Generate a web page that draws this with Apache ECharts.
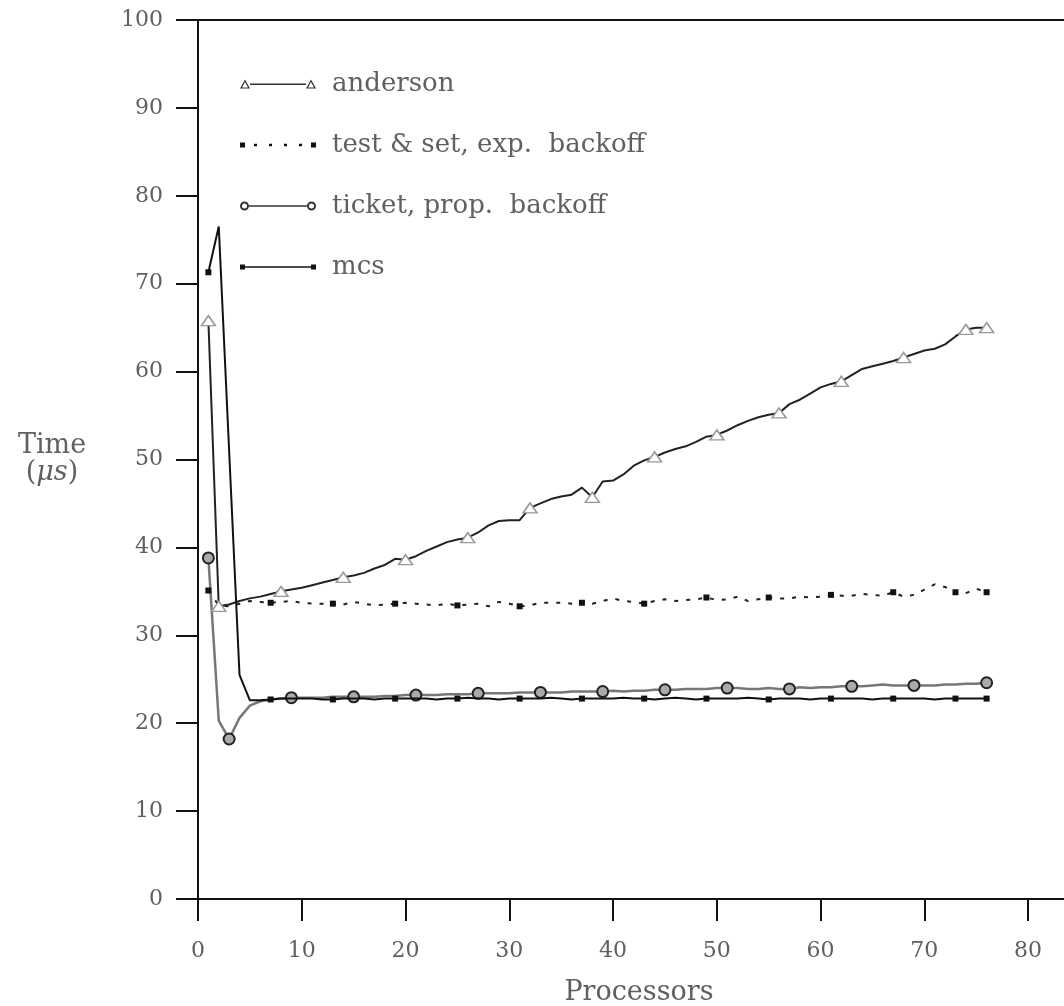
<!DOCTYPE html>
<html>
<head>
<meta charset="utf-8">
<script src="https://cdn.jsdelivr.net/npm/echarts@6/dist/echarts.min.js"></script>
<style>
  html, body { margin: 0; padding: 0; background: #fff; }
  #chart { width: 1064px; height: 1006px; }
</style>
</head>
<body>
<div id="chart"></div>
<script>
// processor counts 1..76
const processors = Array.from({ length: 76 }, (_, i) => i + 1);

const anderson = [
  65.8, 33.3, 33.5, 33.9, 34.2, 34.4, 34.7, 35.0, 35.2, 35.4,
  35.7, 36.0, 36.3, 36.6, 36.8, 37.1, 37.6, 38.0, 38.7, 38.6,
  39.0, 39.6, 40.1, 40.6, 40.9, 41.1, 41.7, 42.5, 43.0, 43.1,
  43.1, 44.5, 45.0, 45.5, 45.8, 46.0, 46.8, 45.7, 47.5, 47.6,
  48.3, 49.3, 49.9, 50.3, 50.8, 51.2, 51.5, 52.0, 52.6, 52.8,
  53.3, 53.9, 54.4, 54.8, 55.1, 55.3, 56.3, 56.8, 57.5, 58.2,
  58.6, 58.9, 59.6, 60.3, 60.6, 60.9, 61.2, 61.6, 62.0, 62.4,
  62.6, 63.1, 64.0, 64.8, 65.0, 65.0
];
const testSet = [
  35.1, 33.4, 33.3, 33.6, 33.9, 33.8, 33.7, 33.8, 33.9, 33.7,
  33.6, 33.6, 33.6, 33.5, 33.8, 33.6, 33.4, 33.5, 33.6, 33.7,
  33.6, 33.5, 33.4, 33.6, 33.4, 33.5, 33.6, 33.3, 33.8, 33.6,
  33.3, 33.4, 33.7, 33.7, 33.7, 33.6, 33.7, 33.6, 33.9, 34.2,
  33.9, 33.8, 33.6, 33.9, 34.1, 33.9, 34.0, 34.1, 34.3, 34.0,
  34.1, 34.4, 33.9, 34.1, 34.3, 34.2, 34.2, 34.4, 34.3, 34.4,
  34.6, 34.5, 34.5, 34.7, 34.6, 34.5, 34.9, 34.4, 34.6, 35.2,
  35.8, 35.5, 34.9, 34.8, 35.3, 34.9
];
const ticket = [
  38.8, 20.3, 18.2, 20.6, 22.0, 22.5, 22.7, 22.8, 22.9, 22.9,
  22.9, 22.9, 23.0, 23.0, 23.0, 23.0, 23.0, 23.1, 23.1, 23.2,
  23.2, 23.2, 23.2, 23.3, 23.3, 23.3, 23.4, 23.4, 23.4, 23.4,
  23.5, 23.5, 23.5, 23.5, 23.5, 23.6, 23.6, 23.6, 23.6, 23.7,
  23.6, 23.7, 23.7, 23.8, 23.8, 23.8, 23.9, 23.9, 23.9, 24.0,
  24.0, 24.0, 23.9, 23.9, 24.0, 23.9, 23.9, 24.1, 24.0, 24.1,
  24.1, 24.2, 24.2, 24.2, 24.3, 24.4, 24.3, 24.3, 24.3, 24.3,
  24.3, 24.4, 24.4, 24.5, 24.5, 24.6
];
const mcs = [
  71.3, 76.5, 51.0, 25.5, 22.6, 22.6, 22.7, 22.8, 22.8, 22.8,
  22.8, 22.7, 22.7, 22.8, 22.8, 22.8, 22.7, 22.8, 22.8, 22.8,
  22.8, 22.8, 22.7, 22.8, 22.8, 22.9, 22.8, 22.8, 22.7, 22.8,
  22.8, 22.8, 22.8, 22.9, 22.8, 22.7, 22.8, 22.8, 22.8, 22.8,
  22.9, 22.8, 22.8, 22.7, 22.8, 22.9, 22.8, 22.7, 22.8, 22.8,
  22.8, 22.8, 22.9, 22.8, 22.7, 22.8, 22.8, 22.8, 22.7, 22.8,
  22.8, 22.8, 22.8, 22.8, 22.7, 22.8, 22.8, 22.8, 22.8, 22.8,
  22.7, 22.8, 22.8, 22.8, 22.8, 22.8
];

// which processor counts carry a marker on each curve
const andersonMarks = [1, 2, 8, 14, 20, 26, 32, 38, 44, 50, 56, 62, 68, 74, 76];
const testSetMarks = [1, 7, 13, 19, 25, 31, 37, 43, 49, 55, 61, 67, 73, 76];
const ticketMarks = [1, 3, 9, 15, 21, 27, 33, 39, 45, 51, 57, 63, 69, 76];
const mcsMarks = [1, 7, 13, 19, 25, 31, 37, 43, 49, 55, 61, 67, 73, 76];

const seriesNames = ['anderson', 'test & set, exp.  backoff', 'ticket, prop.  backoff', 'mcs'];

const pairs = ys => processors.map((p, i) => [p, ys[i]]);
const marker = (marks, type) => (val, params) =>
  marks.includes(processors[params.dataIndex]) ? type : 'none';

// legend icons: line with a marker at each end
const iconAnderson = 'path://M0,12 L5,3 L10,12 Z M2,11 L8,11 L5,5.5 Z M10,7 H66 V8.6 H10 Z M66,12 L71,3 L76,12 Z M68,11 L74,11 L71,5.5 Z';
const iconTestSet = 'path://M0,5 H5 V10 H0 Z M14,6.3 H17 V8.8 H14 Z M29,6.3 H32 V8.8 H29 Z M44,6.3 H47 V8.8 H44 Z M59,6.3 H62 V8.8 H59 Z M71,5 H76 V10 H71 Z';
const iconTicket = 'path://M0,7 A4.5,4.5 0 1 0 9,7 A4.5,4.5 0 1 0 0,7 Z M2,7 A2.5,2.5 0 1 1 7,7 A2.5,2.5 0 1 1 2,7 Z M9,6.2 H67 V7.8 H9 Z M67,7 A4.5,4.5 0 1 0 76,7 A4.5,4.5 0 1 0 67,7 Z M69,7 A2.5,2.5 0 1 1 74,7 A2.5,2.5 0 1 1 69,7 Z';
const iconMcs = 'path://M0,4.5 H5 V9.5 H0 Z M5,6.2 H71 V7.8 H5 Z M71,4.5 H76 V9.5 H71 Z';

const serif = 'DejaVu Serif';
const labelColor = '#606060';

const chart = echarts.init(document.getElementById('chart'));

const option = {
  backgroundColor: '#fff',
  animation: false,
  grid: { left: 198, top: 20, width: 882, height: 879, outerBoundsMode: 'none', containLabel: false },
  legend: {
    orient: 'vertical',
    left: 240,
    top: 69,
    padding: 0,
    itemWidth: 76,
    itemHeight: 14,
    itemGap: 31,
    textStyle: {
      fontFamily: serif,
      fontSize: 26,
      lineHeight: 30,
      color: labelColor,
      padding: [0, 0, 0, 11]
    },
    data: [
      { name: seriesNames[0], icon: iconAnderson, itemStyle: { color: '#333', borderWidth: 0 } },
      { name: seriesNames[1], icon: iconTestSet, itemStyle: { color: '#111', borderWidth: 0 } },
      { name: seriesNames[2], icon: iconTicket, itemStyle: { color: '#333', borderWidth: 0 } },
      { name: seriesNames[3], icon: iconMcs, itemStyle: { color: '#111', borderWidth: 0 } }
    ]
  },
  xAxis: [
    {
      type: 'value',
      min: 0,
      max: 85,
      interval: 10,
      name: 'Processors',
      nameLocation: 'middle',
      nameGap: 80,
      nameTextStyle: { fontFamily: serif, fontSize: 27, color: labelColor },
      axisLine: { lineStyle: { color: '#111', width: 2 } },
      axisTick: { length: 22, lineStyle: { color: '#111', width: 2 } },
      axisLabel: { showMaxLabel: false, margin: 41, fontFamily: serif, fontSize: 22, color: labelColor },
      splitLine: { show: false }
    },
    {
      type: 'value',
      position: 'top',
      min: 0,
      max: 85,
      axisLine: { lineStyle: { color: '#111', width: 2 } },
      axisTick: { show: false },
      axisLabel: { show: false },
      splitLine: { show: false }
    }
  ],
  yAxis: {
    type: 'value',
    min: 0,
    max: 100,
    interval: 10,
    name: '{a|Time}\n{a|(}{i|μs}{a|)}',
    nameLocation: 'middle',
    nameRotate: 0,
    nameGap: 146,
    nameTextStyle: {
      align: 'center',
      rich: {
        a: { fontFamily: serif, fontSize: 27, color: labelColor, lineHeight: 27 },
        i: { fontFamily: serif, fontSize: 27, fontStyle: 'italic', color: labelColor, lineHeight: 27 }
      }
    },
    axisLine: { lineStyle: { color: '#111', width: 2 } },
    axisTick: { length: 22, lineStyle: { color: '#111', width: 2 } },
    axisLabel: { margin: 35, fontFamily: serif, fontSize: 22, color: labelColor },
    splitLine: { show: false }
  },
  series: [
    {
      name: seriesNames[0],
      type: 'line',
      data: pairs(anderson),
      symbol: marker(andersonMarks, 'triangle'),
      symbolSize: [14, 10],
      lineStyle: { color: '#222', width: 2 },
      itemStyle: { color: '#fff', borderColor: '#999', borderWidth: 1.5 },
      z: 3
    },
    {
      name: seriesNames[1],
      type: 'line',
      data: pairs(testSet),
      symbol: marker(testSetMarks, 'rect'),
      symbolSize: 6,
      lineStyle: { color: '#222', width: 2, type: [4, 8] },
      itemStyle: { color: '#111' },
      z: 2
    },
    {
      name: seriesNames[2],
      type: 'line',
      data: pairs(ticket),
      symbol: marker(ticketMarks, 'circle'),
      symbolSize: 11,
      lineStyle: { color: '#777', width: 2.5 },
      itemStyle: { color: '#aaa', borderColor: '#222', borderWidth: 2 },
      z: 2
    },
    {
      name: seriesNames[3],
      type: 'line',
      data: pairs(mcs),
      symbol: marker(mcsMarks, 'rect'),
      symbolSize: 6,
      lineStyle: { color: '#111', width: 2 },
      itemStyle: { color: '#111' },
      z: 4
    }
  ]
};

chart.setOption(option);
</script>
</body>
</html>
